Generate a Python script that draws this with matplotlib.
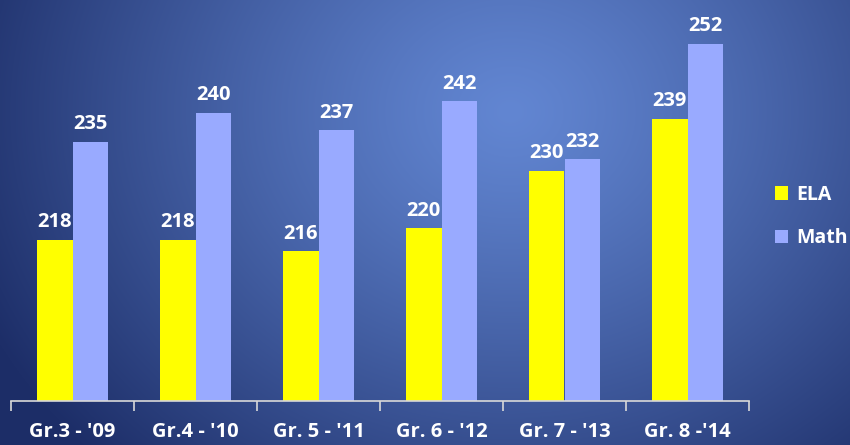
import matplotlib.pyplot as plt
import numpy as np

# data
categories = ["Gr.3 - '09", "Gr.4 - '10", "Gr. 5 - '11", "Gr. 6 - '12", "Gr. 7 - '13", "Gr. 8 -'14"]
ela = [218, 218, 216, 220, 230, 239]
math_scores = [235, 240, 237, 242, 232, 252]

plt.rcParams['font.family'] = ['Open Sans', 'DejaVu Sans']

fig = plt.figure(figsize=(8.5, 4.45), dpi=100)

# background gradient
bg = fig.add_axes([0, 0, 1, 1], zorder=0)
h, w = 445, 850
yy, xx = np.mgrid[0:h, 0:w]
cx, cy = 0.6 * w, 0.25 * h
d = np.sqrt(((xx - cx) / (0.8 * w)) ** 2 + ((yy - cy) / (1.3 * h)) ** 2)
d = np.clip(d / 0.85, 0, 1) ** 1.2
c0 = np.array([0x62, 0x86, 0xd2]) / 255
c1 = np.array([0x1d, 0x2e, 0x68]) / 255
img = c0[None, None, :] * (1 - d[..., None]) + c1[None, None, :] * d[..., None]
bg.imshow(img, aspect='auto', extent=[0, 1, 0, 1])
bg.axis('off')

ax = fig.add_axes([11 / 850, 1 - 401 / 445, 738 / 850, 401 / 445], zorder=1)
ax.patch.set_alpha(0)

x = np.arange(len(categories))
bw = 0.29
ax.bar(x - bw / 2, ela, bw, color='#ffff00', label='ELA')
ax.bar(x + bw / 2, math_scores, bw, color='#99aaff', label='Math')

for i in range(len(categories)):
    ax.text(x[i] - bw / 2, ela[i] + 1.3, str(ela[i]), ha='center', va='bottom',
            color='white', fontsize=14.5, fontweight='bold')
    ax.text(x[i] + bw / 2, math_scores[i] + 1.3, str(math_scores[i]), ha='center', va='bottom',
            color='white', fontsize=14.5, fontweight='bold')

ax.set_xlim(-0.5, len(categories) - 0.5)
ax.set_ylim(190, 259.6)
for s in ['top', 'right', 'left']:
    ax.spines[s].set_visible(False)
ax.spines['bottom'].set_color('#d9d9d9')
ax.spines['bottom'].set_linewidth(1.2)
ax.set_yticks([])
ax.set_xticks(x)
ax.set_xticklabels(categories, color='white', fontsize=14.5, fontweight='bold')
ax.tick_params(axis='x', which='major', length=0, pad=15)
ax.set_xticks(np.arange(-0.5, len(categories)), minor=True)
ax.tick_params(axis='x', which='minor', length=7, width=1.2, color='#d9d9d9', direction='out')

leg = ax.legend(loc='center left', bbox_to_anchor=(764 / 738, 0.46), frameon=False,
                borderpad=0, borderaxespad=0,
                handlelength=0.68, handleheight=0.68, handletextpad=0.4,
                labelspacing=1.2, prop={'weight': 'bold', 'size': 14})
for t in leg.get_texts():
    t.set_color('white')

fig.savefig('out.png', dpi=100)
